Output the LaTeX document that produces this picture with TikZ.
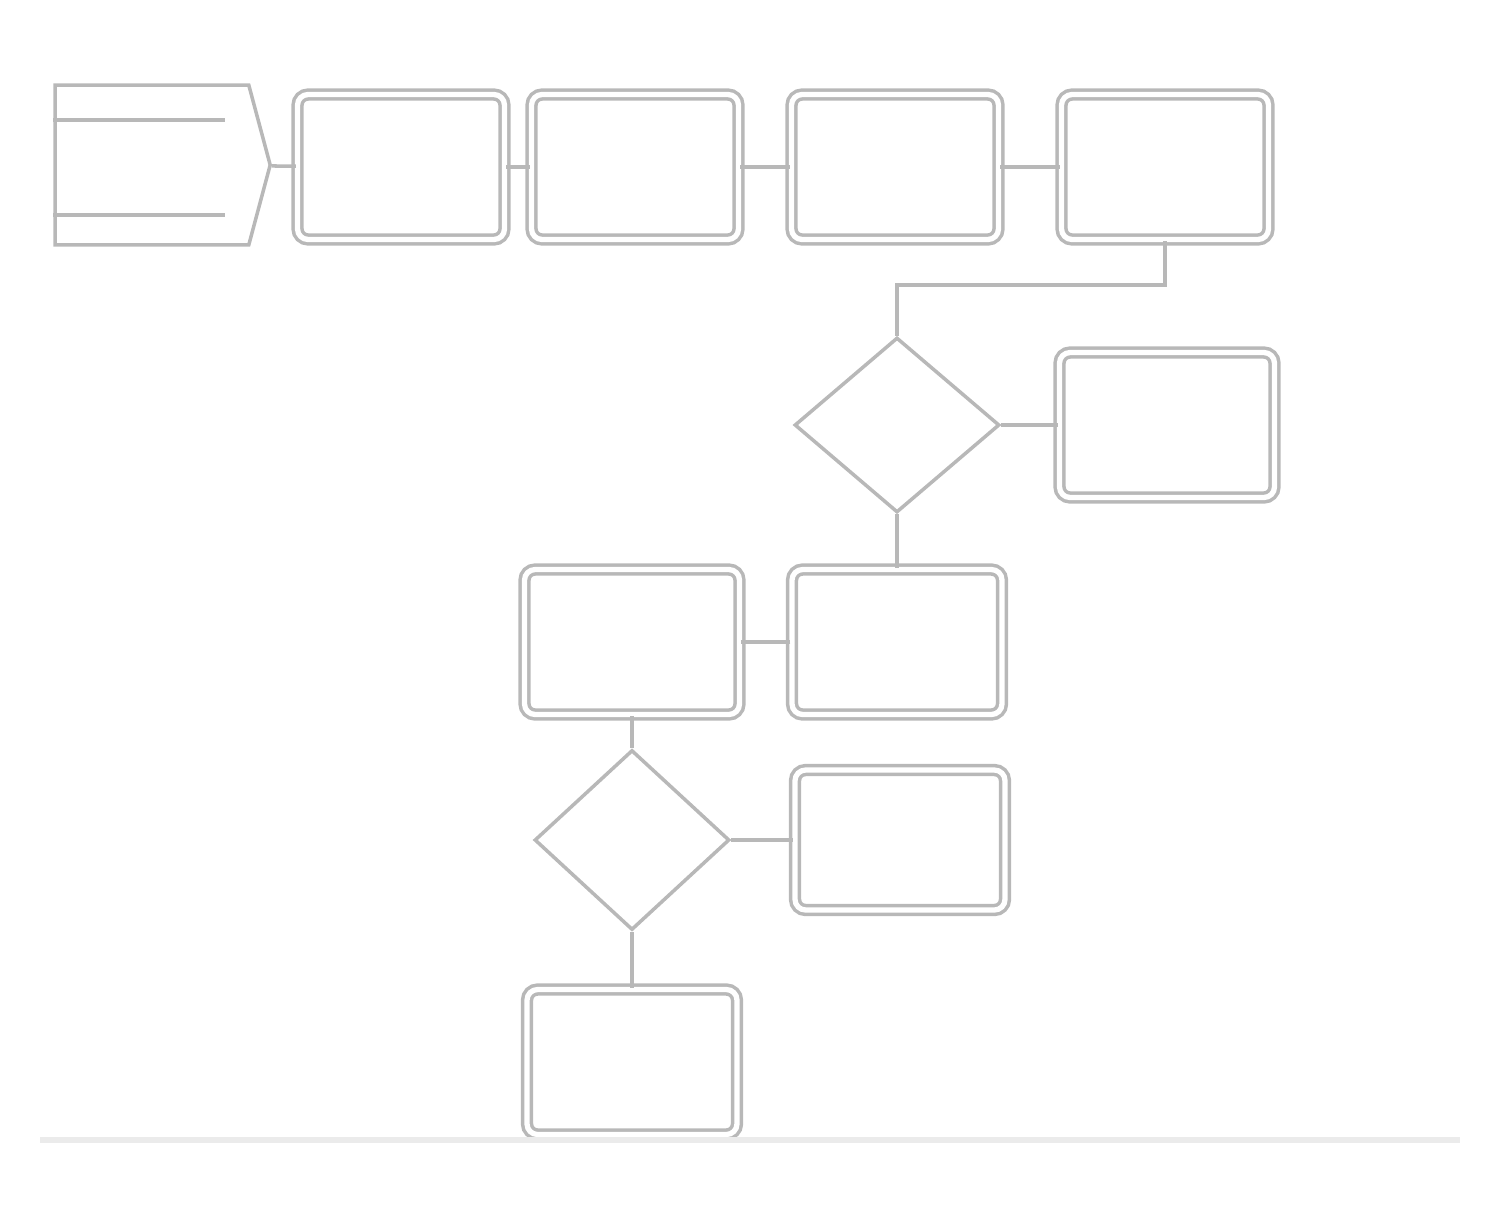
\documentclass[tikz,border=0pt]{standalone}
\usetikzlibrary{shapes.geometric,shapes.symbols}

\begin{document}
\begin{tikzpicture}[x=0.02cm,y=-0.02cm,
    chartline/.style={draw=black!28, line width=2pt},
    chartbox/.style={chartline, rounded corners=6pt, double=white, double distance=3pt, minimum width=4.14cm, minimum height=2.9cm},
    chartask/.style={chartline, diamond, aspect=1.2, inner sep=0pt, minimum width=4.1cm, minimum height=3.5cm},
    chartstart/.style={chartline, signal, signal to=east, signal pointer angle=150, minimum width=4.3cm, minimum height=3.2cm}]
            \useasboundingbox (0,0) rectangle (1503,1214);
            % top row
            \node[chartstart] (start) at (152,165) {};
            \node[chartbox] (stepa) at (401,167) {};
            \node[chartbox] (stepb) at (635,167) {};
            \node[chartbox] (stepc) at (895,167) {};
            \node[chartbox] (stepd) at (1165,167) {};
            \draw[chartline] (start.west |- 0,120) -- (225,120);
            \draw[chartline] (start.west |- 0,215) -- (225,215);
            \draw[chartline] (start) -- (stepa);
            \draw[chartline] (stepa) -- (stepb);
            \draw[chartline] (stepb) -- (stepc);
            \draw[chartline] (stepc) -- (stepd);
            % first question
            \node[chartask] (askone) at (897,425) {};
            \node[chartbox, minimum width=4.3cm] (sideone) at (1167,425) {};
            \coordinate (turn) at (1165,285);
            \draw[chartline] (stepd.south) -- (turn) -| (askone.north);
            \draw[chartline] (askone) -- (sideone);
            % middle row
            \node[chartbox, minimum width=4.2cm] (stepe) at (897,642) {};
            \node[chartbox, minimum width=4.3cm] (stepf) at (632,642) {};
            \draw[chartline] (askone) -- (stepe);
            \draw[chartline] (stepe) -- (stepf);
            % second question
            \node[chartask, minimum width=3.9cm, minimum height=3.6cm] (asktwo) at (632,840) {};
            \node[chartbox, minimum width=4.2cm, minimum height=2.8cm] (sidetwo) at (900,840) {};
            \node[chartbox, minimum width=4.2cm] (stepg) at (632,1062) {};
            \draw[chartline] (stepf) -- (asktwo);
            \draw[chartline] (asktwo) -- (sidetwo);
            \draw[chartline] (asktwo) -- (stepg);
            % rule
            \draw[draw=black!8, line width=3pt] (40,1140) -- (1460,1140);
        \end{tikzpicture}
\end{document}
